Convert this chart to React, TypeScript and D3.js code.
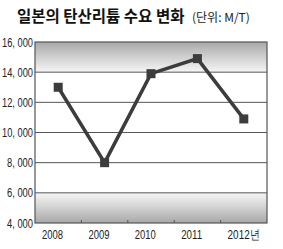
import React from "react";
import * as d3 from "d3";

const years = ["2008", "2009", "2010", "2011", "2012"];
const yearLabels = ["2008", "2009", "2010", "2011", "2012년"];
const demand = [13000, 8000, 13900, 14900, 10900];
const yTicks = [4000, 6000, 8000, 10000, 12000, 14000, 16000];
const yTickLabels = ["4, 000", "6, 000", "8, 000", "10, 000", "12, 000", "14, 000", "16, 000"];

const W = 283;
const H = 249;
const m = { left: 35, right: 16, top: 42, bottom: 26 };

export default function App() {
  const x = d3
    .scaleBand()
    .domain(years)
    .range([m.left, W - m.right]);
  const y = d3
    .scaleLinear()
    .domain([4000, 16000])
    .range([H - m.bottom, m.top]);

  const line = d3
    .line<number>()
    .x((_, i) => (x(years[i]) || 0) + x.bandwidth() / 2)
    .y((d) => y(d));

  const ink = "#3c3c3c";

  return (
    <svg
      width={W}
      height={H}
      style={{ position: "absolute", left: 0, top: 0, background: "#fff" }}
      fontFamily="'Liberation Sans', sans-serif"
    >
      <defs>
        <linearGradient id="topBand" x1="0" y1="0" x2="0" y2="1">
          <stop offset="0" stopColor="#a8a8a8" />
          <stop offset="0.55" stopColor="#d4d4d4" />
          <stop offset="1" stopColor="#f6f6f6" />
        </linearGradient>
        <linearGradient id="botBand" x1="0" y1="0" x2="0" y2="1">
          <stop offset="0" stopColor="#f6f6f6" />
          <stop offset="0.45" stopColor="#d4d4d4" />
          <stop offset="1" stopColor="#a8a8a8" />
        </linearGradient>
      </defs>

      <text x={17} y={22} fontFamily="'Noto Sans CJK KR', sans-serif" fontWeight="bold" fontSize={15.5} fill="#111">
        일본의 탄산리튬 수요 변화
      </text>
      <text x={192} y={22} fontFamily="'Noto Sans CJK KR', sans-serif" fontSize={12} fill="#222">
        (단위: M/T)
      </text>

      {/* shaded bands */}
      <rect
        x={m.left}
        y={y(16000)}
        width={W - m.right - m.left}
        height={y(14000) - y(16000)}
        fill="url(#topBand)"
      />
      <rect
        x={m.left}
        y={y(6000)}
        width={W - m.right - m.left}
        height={y(4000) - y(6000)}
        fill="url(#botBand)"
      />

      {/* grid */}
      {yTicks.slice(1, -1).map((t) => (
        <line key={t} x1={m.left} x2={W - m.right} y1={y(t)} y2={y(t)} stroke="#555" strokeWidth={1} />
      ))}
      <rect
        x={m.left}
        y={m.top}
        width={W - m.right - m.left}
        height={H - m.bottom - m.top}
        fill="none"
        stroke="#555"
        strokeWidth={1.2}
      />

      {/* x ticks at band boundaries */}
      {years.slice(1).map((yr) => (
        <line
          key={yr}
          x1={x(yr) || 0}
          x2={x(yr) || 0}
          y1={H - m.bottom}
          y2={H - m.bottom - 3}
          stroke="#555"
        />
      ))}

      {yTicks.map((t, i) => (
        <text
          key={t}
          x={33}
          y={y(t) + 4.5}
          textAnchor="end"
          fontSize={13}
          fill="#222"
          textLength={yTickLabels[i].length > 6 ? 31 : 26}
          lengthAdjust="spacingAndGlyphs"
        >
          {yTickLabels[i]}
        </text>
      ))}
      {years.map((yr, i) => (
        <text
          key={yr}
          x={(x(yr) || 0) + 7}
          y={H - 10}
          fontSize={13}
          fill="#222"
          textLength={i === years.length - 1 ? 32 : 21}
          lengthAdjust="spacingAndGlyphs"
        >
          {yearLabels[i]}
        </text>
      ))}

      <path d={line(demand) || ""} fill="none" stroke={ink} strokeWidth={3.5} strokeLinejoin="miter" />
      {demand.map((d, i) => (
        <rect
          key={i}
          x={(x(years[i]) || 0) + x.bandwidth() / 2 - 4.5}
          y={y(d) - 4.5}
          width={9}
          height={9}
          fill={ink}
        />
      ))}
    </svg>
  );
}
